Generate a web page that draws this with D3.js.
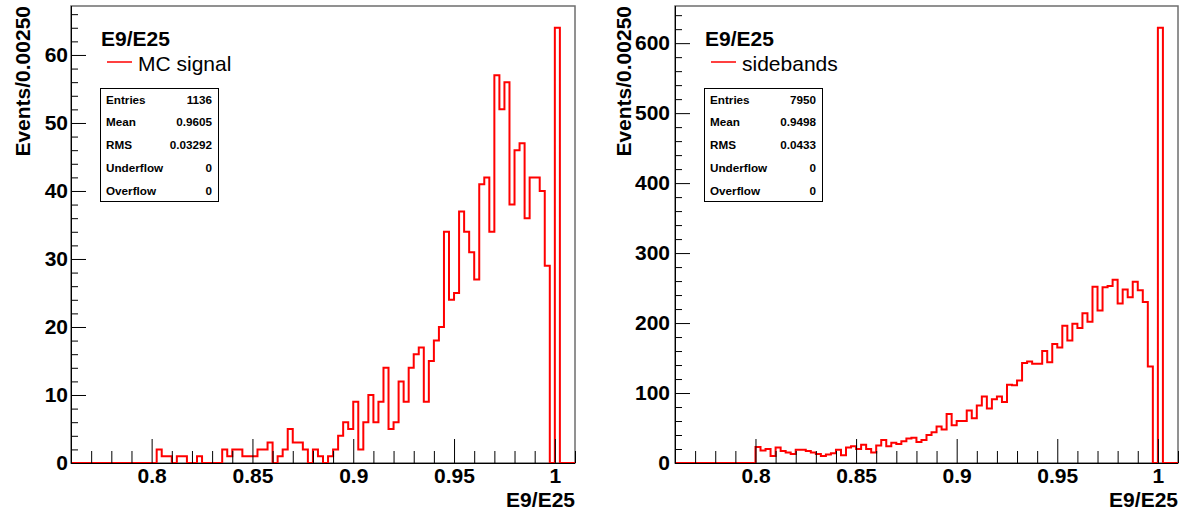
<!DOCTYPE html>
<html>
<head>
<meta charset="utf-8">
<script src="https://cdn.jsdelivr.net/npm/d3@7"></script>
<style>
  body { margin: 0; background: #fff; }
  svg { display: block; font-family: "Liberation Sans", Arial, sans-serif; }
  .tick text { font-weight: bold; font-size: 21px; fill: #000; }
  .domain { stroke: #000; }
</style>
</head>
<body>
<script>
// E9/E25, 100 bins of 0.0025 from 0.76 to 1.01
const binLo = 0.76, binHi = 1.01, binWidth = 0.0025;

const signalCounts = [
  0, 0, 0, 0, 0, 0, 0, 0, 0, 0,
  0, 0, 0, 0, 0, 0, 0, 2, 1, 1,
  0, 1, 1, 0, 0, 1, 0, 0, 0, 0,
  2, 1, 2, 2, 1, 1, 1, 2, 2, 3,
  0, 1, 2, 5, 3, 3, 2, 0, 2, 1,
  0, 1, 2, 4, 6, 5, 9, 2, 6, 10,
  6, 9, 14, 5, 6, 12, 9, 14, 16, 17,
  9, 15, 18, 20, 34, 24, 25, 37, 34, 31,
  27, 41, 42, 34, 57, 52, 56, 38, 46, 47,
  36, 42, 42, 40, 29, 0, 64, 0, 0, 0
];

const sidebandCounts = [
  0, 0, 0, 0, 0, 0, 0, 0, 0, 0,
  0, 0, 0, 0, 0, 0, 23, 18, 20, 10,
  22, 17, 15, 13, 19, 19, 17, 15, 13, 10,
  12, 14, 19, 11, 22, 24, 20, 26, 20, 15,
  25, 33, 24, 29, 27, 31, 35, 36, 30, 33,
  40, 44, 52, 48, 70, 54, 60, 60, 75, 64,
  82, 95, 78, 91, 95, 87, 112, 111, 118, 143,
  145, 142, 142, 160, 144, 170, 165, 196, 175, 199,
  193, 214, 202, 252, 218, 251, 253, 262, 228, 248,
  237, 259, 247, 230, 138, 0, 622, 0, 0, 0
];

const xTickLabels = [0.8, 0.85, 0.9, 0.95, 1];
const signalYTicks = [0, 10, 20, 30, 40, 50, 60];
const sidebandYTicks = [0, 100, 200, 300, 400, 500, 600];

const statsLabels = ["Entries", "Mean", "RMS", "Underflow", "Overflow"];
const signalStats = ["1136", "0.9605", "0.03292", "0", "0"];
const sidebandStats = ["7950", "0.9498", "0.0433", "0", "0"];

const histTitle = "E9/E25";
const yTitle = "Events/0.00250";

var W = 1184, H = 516;
var svg = d3.select("body").append("svg")
    .attr("width", W)
    .attr("height", H);

function drawPanel(opt) {
    var left = opt.left, right = opt.right, top = 6, bottom = 463;

    var x = d3.scaleLinear().domain([binLo, binHi]).range([left, right]);
    var y = d3.scaleLinear().domain([0, d3.max(opt.counts) * 1.05]).range([bottom, top]);

    var g = svg.append("g");

    // frame (top/right look grey in ROOT output)
    g.append("rect")
        .attr("x", left).attr("y", top)
        .attr("width", right - left).attr("height", bottom - top)
        .attr("fill", "none")
        .attr("stroke", "#6e6e6e")
        .attr("stroke-width", 1.5);

    // histogram outline
    var pts = opt.counts.map(function (c, i) { return [binLo + i * binWidth, c]; });
    pts.push([binHi, opt.counts[opt.counts.length - 1]]);
    var line = d3.line()
        .x(function (d) { return x(d[0]); })
        .y(function (d) { return y(d[1]); })
        .curve(d3.curveStepAfter);
    g.append("path")
        .datum(pts)
        .attr("d", line)
        .attr("fill", "none")
        .attr("stroke", "#ff0000")
        .attr("stroke-width", 2);

    // x axis
    var xMinor = d3.range(77, 102).map(function (v) { return v / 100; })
        .filter(function (v) { return xTickLabels.indexOf(v) < 0; });
    g.append("g")
        .attr("transform", "translate(0," + bottom + ")")
        .call(d3.axisBottom(x).tickValues(xMinor).tickSize(-12).tickFormat(""))
        .call(function (a) { a.select(".domain").remove(); });
    g.append("g")
        .attr("transform", "translate(0," + bottom + ")")
        .call(d3.axisBottom(x).tickValues(xTickLabels).tickSize(-24).tickPadding(5)
            .tickFormat(function (d) { return String(d); }))
        .call(function (a) { a.select(".domain").attr("d", "M" + left + ",0.5H" + right); });

    // y axis
    var step = opt.yTicks[1] - opt.yTicks[0];
    var yMinor = d3.range(0, y.domain()[1], step / 5)
        .filter(function (v, i) { return i % 5 !== 0; });
    g.append("g")
        .attr("transform", "translate(" + left + ",0)")
        .call(d3.axisLeft(y).tickValues(yMinor).tickSize(-7).tickFormat(""))
        .call(function (a) { a.select(".domain").remove(); });
    g.append("g")
        .attr("transform", "translate(" + left + ",0)")
        .call(d3.axisLeft(y).tickValues(opt.yTicks).tickSize(-15).tickPadding(opt.yPad))
        .call(function (a) { a.select(".domain").attr("d", "M0.5," + bottom + "V" + top); });

    // axis titles
    g.append("text")
        .attr("transform", "translate(" + opt.yTitleX + ",6) rotate(-90)")
        .attr("text-anchor", "end")
        .attr("font-size", 21).attr("font-weight", "bold")
        .text(yTitle);
    g.append("text")
        .attr("x", right).attr("y", 507)
        .attr("text-anchor", "end")
        .attr("font-size", 21).attr("font-weight", "bold")
        .text(histTitle);

    // legend
    var lx = opt.legendX;
    g.append("text")
        .attr("x", lx).attr("y", 46)
        .attr("font-size", 21).attr("font-weight", "bold")
        .text(histTitle);
    g.append("line")
        .attr("x1", lx + 6).attr("x2", lx + 31)
        .attr("y1", 62).attr("y2", 62)
        .attr("stroke", "#ff0000").attr("stroke-width", 1.5);
    g.append("text")
        .attr("x", lx + 37).attr("y", 71)
        .attr("font-size", 21)
        .text(opt.label);

    // stats box
    var bx = opt.boxX, bw = 118;
    g.append("rect")
        .attr("x", bx + 0.5).attr("y", 88.5)
        .attr("width", bw).attr("height", 113)
        .attr("fill", "#fff").attr("stroke", "#000");
    statsLabels.forEach(function (s, i) {
        var by = 103.5 + i * 22.8;
        g.append("text")
            .attr("x", bx + 6).attr("y", by)
            .attr("font-size", 11.7).attr("font-weight", "bold")
            .text(s);
        g.append("text")
            .attr("x", bx + bw - 6).attr("y", by)
            .attr("text-anchor", "end")
            .attr("font-size", 11.7).attr("font-weight", "bold")
            .text(opt.stats[i]);
    });
}

drawPanel({ left: 71, right: 575, counts: signalCounts, yTicks: signalYTicks, yPad: 3,
            yTitleX: 30, legendX: 101, label: "MC signal", boxX: 100, stats: signalStats });
drawPanel({ left: 675, right: 1178, counts: sidebandCounts, yTicks: sidebandYTicks, yPad: 5,
            yTitleX: 631, legendX: 705, label: "sidebands", boxX: 704, stats: sidebandStats });
</script>
</body>
</html>
